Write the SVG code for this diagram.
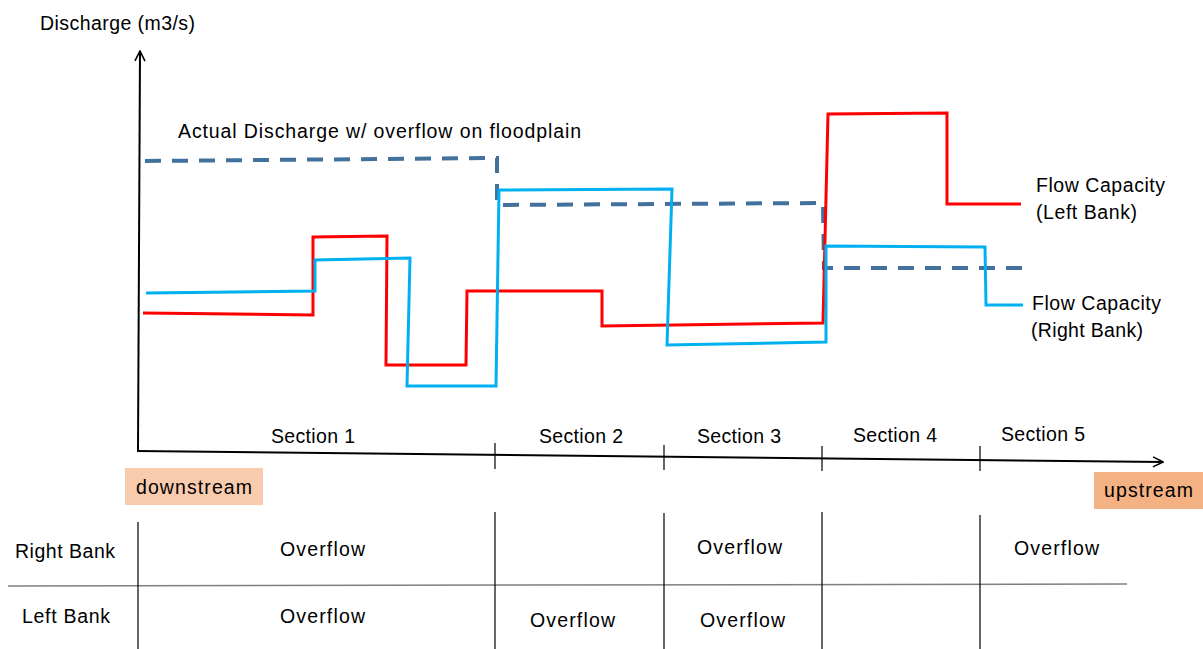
<svg xmlns="http://www.w3.org/2000/svg" width="1203" height="649" viewBox="0 0 1203 649">
<style>
text{font-family:"Liberation Sans",Arial,sans-serif;font-size:19.5px;fill:#000}
.ax{stroke:#000;stroke-width:2;fill:none}
.thin{stroke:#000;stroke-width:1.2;fill:none}
.grid{stroke:#7f7f7f;stroke-width:1.5;fill:none}
.red{stroke:#FF0000;stroke-width:3;fill:none;stroke-linejoin:miter}
.blue{stroke:#00B0F0;stroke-width:3;fill:none;stroke-linejoin:miter}
.dash{stroke:#41719C;stroke-width:4;fill:none;stroke-dasharray:16 11}
</style>
<defs>
<marker id="arr" viewBox="0 0 12 12" refX="11" refY="6" markerWidth="12" markerHeight="12" markerUnits="userSpaceOnUse" orient="auto">
<polyline points="1,1 11,6 1,11" fill="none" stroke="#000" stroke-width="1.6"/>
</marker>
</defs>
<rect width="1203" height="649" fill="#fff"/>
<g id="axes">
<line class="ax" x1="138" y1="451" x2="140" y2="51" marker-end="url(#arr)"/>
<line class="ax" x1="137" y1="451" x2="1163" y2="462" marker-end="url(#arr)"/>
<line class="thin" x1="495" y1="443" x2="495" y2="469"/>
<line class="thin" x1="664" y1="445" x2="664" y2="470"/>
<line class="thin" x1="822" y1="446" x2="822" y2="471"/>
<line class="thin" x1="980" y1="446" x2="980" y2="471"/>
<text x="40" y="30" textLength="155">Discharge (m3/s)</text>
</g>
<g id="connectors">
<polyline class="dash" points="145,161 497,158 497,205 823,203 824,268 1023,268"/>
<polyline class="red" points="143,313 313,315 313,237 387,236 386,365 466,365 467,291 602,291 602,326 823,323 828,114 947,113 947,204 1021,204"/>
<polyline class="blue" points="146,293 315,291 315,260 410,258 407,386 496,386 499,190 672,189 667,345 826,342 826,246 985,247 986,305 1023,305"/>
</g>
<g id="label-actual"><text x="178" y="138" textLength="403">Actual Discharge w/ overflow on floodplain</text></g>
<g id="label-left-cap"><text x="1036" y="192" textLength="129">Flow Capacity</text><text x="1036" y="219" textLength="101">(Left Bank)</text></g>
<g id="label-right-cap"><text x="1032" y="310" textLength="129">Flow Capacity</text><text x="1031" y="337" textLength="112">(Right Bank)</text></g>
<g id="sections">
<text x="271" y="443" textLength="84">Section 1</text>
<text x="539" y="443" textLength="84">Section 2</text>
<text x="697" y="443" textLength="84">Section 3</text>
<text x="853" y="442" textLength="84">Section 4</text>
<text x="1001" y="441" textLength="84">Section 5</text>
</g>
<g id="downstream"><rect x="125" y="468" width="138" height="37" fill="#F8CBAD"/><text x="136" y="494" textLength="116">downstream</text></g>
<g id="upstream"><rect x="1094" y="472" width="109" height="37" fill="#F4B183"/><text x="1104" y="497" textLength="89">upstream</text></g>
<g id="table">
<line class="grid" x1="8" y1="586" x2="1127" y2="584"/>
<line class="thin" x1="138" y1="522" x2="138" y2="649"/>
<line class="thin" x1="495" y1="512" x2="495" y2="649"/>
<line class="thin" x1="664" y1="513" x2="664" y2="649"/>
<line class="thin" x1="822" y1="512" x2="822" y2="649"/>
<line class="thin" x1="980" y1="515" x2="980" y2="649"/>
<text x="15" y="558" textLength="100">Right Bank</text>
<text x="22" y="623" textLength="88">Left Bank</text>
<text x="280" y="556" textLength="85">Overflow</text>
<text x="697" y="554" textLength="85">Overflow</text>
<text x="1014" y="555" textLength="85">Overflow</text>
<text x="280" y="623" textLength="85">Overflow</text>
<text x="530" y="627" textLength="85">Overflow</text>
<text x="700" y="627" textLength="85">Overflow</text>
</g>
</svg>
